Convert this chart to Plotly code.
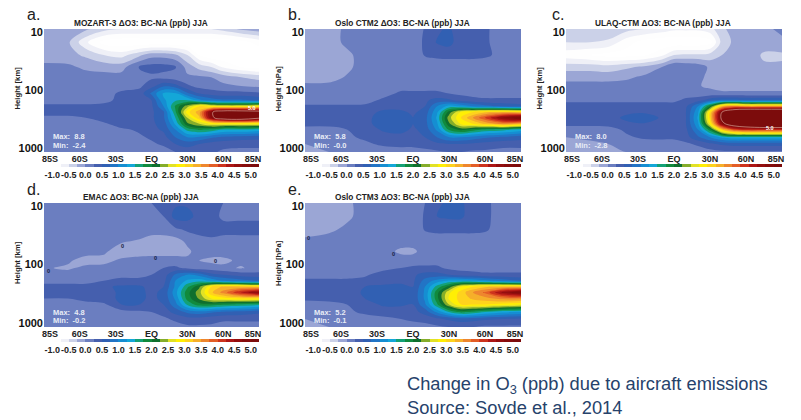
import plotly.graph_objects as go

lons = [-90,-70,-55,-40,-25,-10,0,10,20,30,40,50,60,75,90]
levels = [8.9,15,25,40,60,85,115,150,190,240,300,380,480,650,850,1170]

mozart3 = [
[-0.1,-0.1,-0.2,-0.4,-0.5,-0.5,-0.5,-0.5,-0.5,-0.5,-0.5,-0.5,-0.4,-0.2,-0.1],
[-0.1,-0.2,-0.7,-1.1,-1.2,-1.2,-1.2,-1.2,-1.2,-1.2,-1.2,-1.2,-1.2,-1.1,-0.9],
[-0.1,-0.15,-0.3,-0.5,-0.6,-0.3,-0.1,-0.1,-0.2,-0.5,-1.0,-1.2,-1.2,-1.2,-1.2],
[0.05,0.05,-0.05,-0.1,-0.1,0.28,0.35,0.35,0.28,-0.1,-0.35,-0.5,-0.8,-1.0,-1.1],
[0.1,0.1,0.1,0.1,0.1,0.15,0.2,0.15,0.1,0.05,0.05,0.0,-0.1,-0.25,-0.35],
[0.12,0.12,0.1,0.1,0.15,0.2,0.4,0.7,0.6,0.3,0.15,0.1,0.05,0.0,-0.05],
[0.12,0.12,0.12,0.15,0.3,0.35,0.8,1.3,1.3,0.8,0.5,0.4,0.35,0.35,0.3],
[0.15,0.15,0.15,0.2,0.3,0.4,0.5,1.2,1.45,1.5,1.1,0.9,0.8,0.8,0.7],
[0.3,0.3,0.3,0.3,0.4,0.45,0.45,1.0,1.8,2.4,3.0,2.8,2.7,2.7,2.9],
[0.35,0.35,0.35,0.35,0.45,0.45,0.45,0.7,1.7,2.9,3.4,4.9,5.6,5.6,5.4],
[0.2,0.2,0.25,0.4,0.45,0.45,0.45,0.7,1.5,2.5,3.2,4.8,5.6,5.8,5.2],
[0.1,0.1,0.15,0.2,0.4,0.45,0.45,0.6,1.3,2.2,2.5,2.8,2.8,2.8,2.8],
[0.1,0.1,0.1,0.15,0.2,0.3,0.4,0.55,1.0,1.6,1.8,1.7,1.5,1.5,1.4],
[0.1,0.1,0.1,0.1,0.15,0.2,0.3,0.4,0.75,1.0,0.95,0.8,0.7,0.65,0.6],
[0.1,0.1,0.1,0.1,0.1,0.15,0.2,0.3,0.5,0.6,0.5,0.4,0.35,0.3,0.3],
[0.05,0.05,0.05,0.05,0.05,0.1,0.1,0.1,0.25,0.35,0.3,0.3,0.2,0.2,0.2],
]
oslo_ctm2 = [
[-0.1,-0.1,0.05,0.1,0.1,0.1,0.1,0.27,0.45,0.55,0.3,0.3,0.3,0.1,0.1],
[-0.1,-0.1,0.05,0.1,0.1,0.1,0.1,0.3,0.52,0.6,0.32,0.3,0.3,0.1,0.1],
[-0.1,-0.1,-0.05,0.1,0.1,0.1,0.1,0.27,0.3,0.3,0.3,0.3,0.28,0.2,0.15],
[-0.1,-0.1,-0.05,0.1,0.1,0.1,0.1,0.1,0.12,0.15,0.15,0.15,0.15,0.15,0.15],
[-0.1,-0.08,0.02,0.1,0.1,0.1,0.1,0.1,0.1,0.1,0.1,0.1,0.1,0.1,0.1],
[0.05,0.05,0.1,0.1,0.1,0.15,0.15,0.15,0.15,0.12,0.12,0.12,0.12,0.12,0.12],
[0.1,0.1,0.1,0.1,0.15,0.3,0.3,0.3,0.3,0.25,0.2,0.15,0.15,0.15,0.15],
[0.1,0.1,0.1,0.15,0.3,0.4,0.4,0.45,0.6,0.55,0.4,0.35,0.3,0.3,0.3],
[0.3,0.3,0.3,0.3,0.4,0.4,0.45,0.5,1.0,1.35,1.2,1.0,0.85,0.7,0.6],
[0.35,0.35,0.35,0.4,0.55,0.55,0.45,0.6,1.2,2.1,2.8,3.0,3.2,3.3,3.2],
[0.35,0.35,0.35,0.4,0.65,0.65,0.5,0.65,1.3,2.4,3.0,3.5,4.0,4.8,5.2],
[0.3,0.3,0.3,0.4,0.65,0.65,0.5,0.65,1.2,2.2,2.8,3.0,3.3,3.6,3.4],
[0.2,0.2,0.25,0.3,0.55,0.6,0.45,0.6,1.05,1.8,2.1,1.9,1.7,1.6,1.4],
[0.05,0.1,0.2,0.3,0.35,0.4,0.4,0.5,0.75,1.0,1.0,0.9,0.8,0.7,0.6],
[0.0,0.05,0.1,0.2,0.3,0.35,0.35,0.4,0.45,0.5,0.5,0.45,0.4,0.35,0.35],
[0.0,0.0,0.05,0.1,0.1,0.1,0.1,0.15,0.2,0.25,0.25,0.2,0.2,0.15,0.15],
]
ulaq_ctm = [
[-0.25,-0.25,-0.3,-0.4,-0.5,-0.6,-0.7,-0.7,-0.7,-0.6,-0.3,-0.15,-0.1,-0.05,0.05],
[-0.5,-0.5,-0.55,-0.9,-1.1,-1.2,-1.2,-1.2,-1.2,-1.1,-0.4,-0.2,-0.1,-0.1,-0.05],
[-0.9,-1.0,-1.1,-1.1,-1.05,-0.8,-0.5,-0.45,-0.45,-0.4,-0.25,-0.15,-0.05,-0.3,-0.3],
[-0.35,-0.35,-0.4,-0.3,-0.2,0.0,0.25,0.2,0.15,-0.05,-0.1,-0.15,-0.15,-0.2,-0.2],
[-0.1,-0.1,-0.1,-0.05,0.05,0.1,0.12,0.12,0.05,-0.05,-0.1,-0.1,-0.1,-0.1,-0.1],
[0.1,0.1,0.1,0.1,0.1,0.1,0.1,0.05,0.02,-0.05,-0.1,-0.1,-0.1,-0.1,-0.1],
[0.15,0.15,0.15,0.15,0.15,0.15,0.15,0.15,0.1,0.1,0.05,0.05,0.05,0.05,0.05],
[0.2,0.2,0.2,0.2,0.2,0.2,0.2,0.3,0.4,0.65,0.8,0.8,0.75,0.75,0.75],
[0.35,0.35,0.35,0.35,0.35,0.35,0.35,0.45,1.0,2.0,3.3,3.6,3.4,3.4,3.4],
[0.4,0.4,0.4,0.45,0.45,0.45,0.4,0.5,1.2,3.0,5.0,6.0,6.5,6.5,6.5],
[0.4,0.4,0.4,0.55,0.7,0.45,0.4,0.5,1.3,3.1,5.2,6.5,7.0,8.0,8.0],
[0.35,0.35,0.35,0.45,0.48,0.4,0.4,0.5,1.2,2.8,4.8,5.6,6.0,6.5,6.5],
[0.1,0.1,0.15,0.3,0.4,0.35,0.35,0.45,1.0,1.9,3.2,4.0,4.2,4.2,4.2],
[0.0,0.05,0.1,0.2,0.3,0.3,0.3,0.4,0.7,1.0,1.3,1.4,1.4,1.4,1.4],
[-0.05,-0.05,0.0,0.1,0.1,0.15,0.15,0.2,0.3,0.45,0.55,0.6,0.6,0.6,0.6],
[-0.1,-0.1,-0.05,0.0,0.0,0.0,0.05,0.05,0.1,0.15,0.2,0.2,0.2,0.2,0.2],
]
emac = [
[0.1,0.1,0.1,0.1,0.1,0.15,0.25,0.35,0.45,0.45,0.4,0.35,0.25,0.15,0.15],
[0.1,0.1,0.1,0.1,0.1,0.1,0.15,0.25,0.6,0.6,0.4,0.35,0.2,0.2,0.2],
[0.1,0.1,0.1,0.1,0.1,0.1,0.1,0.1,0.2,0.3,0.35,0.35,0.35,0.35,0.35],
[0.1,0.1,0.1,0.1,0.02,-0.02,-0.1,-0.1,-0.1,0.05,0.15,0.2,0.15,0.15,0.15],
[0.1,0.1,0.08,0.03,-0.1,-0.1,-0.1,-0.1,-0.1,-0.05,0.1,0.1,0.1,0.1,0.1],
[0.1,0.03,-0.08,-0.05,0.03,0.08,0.1,0.1,0.1,0.05,0.0,-0.05,-0.05,0.05,0.1],
[0.02,-0.03,0.05,0.05,0.1,0.1,0.1,0.25,0.3,0.2,0.1,0.1,0.05,-0.02,0.08],
[0.08,0.08,0.12,0.15,0.2,0.2,0.25,0.35,0.8,1.0,0.9,0.6,0.5,0.4,0.35],
[0.2,0.2,0.2,0.25,0.3,0.3,0.35,0.4,1.0,1.3,1.4,1.2,1.0,0.85,0.75],
[0.3,0.3,0.3,0.45,0.55,0.55,0.4,0.5,1.05,1.7,2.2,3.0,3.3,3.3,3.2],
[0.3,0.3,0.3,0.4,0.55,0.55,0.45,0.55,1.15,1.9,2.4,3.2,3.6,4.3,4.8],
[0.25,0.25,0.3,0.4,0.55,0.55,0.45,0.55,1.05,1.85,2.3,2.75,2.9,3.0,3.0],
[0.15,0.15,0.2,0.2,0.5,0.5,0.45,0.5,0.9,1.55,1.9,1.9,1.8,1.7,1.6],
[0.1,0.1,0.1,0.1,0.15,0.2,0.25,0.35,0.6,0.8,0.9,0.8,0.7,0.65,0.55],
[0.1,0.1,0.1,0.1,0.1,0.15,0.15,0.2,0.3,0.4,0.4,0.35,0.3,0.3,0.3],
[0.05,0.05,0.05,0.05,0.05,0.1,0.1,0.1,0.15,0.2,0.2,0.2,0.15,0.15,0.15],
]
oslo_ctm3 = [
[-0.1,-0.1,-0.05,0.1,0.1,0.1,0.1,0.25,0.45,0.55,0.55,0.35,0.3,0.15,0.15],
[-0.1,-0.1,-0.05,0.1,0.1,0.1,0.1,0.28,0.5,0.55,0.55,0.35,0.3,0.15,0.25],
[-0.1,-0.05,0.05,0.1,0.1,0.1,0.1,0.27,0.3,0.3,0.3,0.3,0.28,0.15,0.15],
[0.05,0.1,0.1,0.1,0.1,0.1,0.1,0.12,0.15,0.15,0.15,0.15,0.15,0.15,0.15],
[0.1,0.1,0.1,0.1,0.1,-0.05,-0.05,0.1,0.1,0.1,0.1,0.1,0.1,0.1,0.1],
[0.12,0.12,0.12,0.12,0.12,0.12,0.12,0.15,0.15,0.12,0.12,0.12,0.12,0.12,0.12],
[0.12,0.12,0.12,0.12,0.15,0.25,0.3,0.3,0.3,0.2,0.15,0.15,0.15,0.15,0.15],
[0.15,0.15,0.15,0.2,0.4,0.4,0.45,0.6,0.6,0.5,0.4,0.35,0.3,0.3,0.3],
[0.3,0.3,0.3,0.35,0.4,0.45,0.45,0.85,1.1,1.3,1.3,1.25,1.1,0.9,0.75],
[0.3,0.3,0.35,0.5,0.55,0.55,0.5,1.0,1.6,2.1,2.8,3.0,3.2,3.3,3.3],
[0.3,0.3,0.35,0.55,0.6,0.6,0.55,1.05,1.9,2.7,3.1,3.5,3.8,4.6,5.0],
[0.3,0.3,0.3,0.5,0.6,0.6,0.55,1.05,1.9,2.8,3.1,3.3,3.4,3.6,3.6],
[0.15,0.2,0.25,0.35,0.55,0.55,0.5,0.95,1.7,2.5,3.0,3.0,3.0,2.9,2.8],
[0.05,0.1,0.2,0.3,0.35,0.35,0.4,0.6,1.05,1.5,1.8,1.7,1.5,1.3,1.2],
[0.0,0.05,0.1,0.15,0.2,0.25,0.3,0.35,0.45,0.55,0.65,0.6,0.55,0.5,0.45],
[0.0,0.0,0.05,0.1,0.1,0.1,0.15,0.15,0.2,0.25,0.25,0.25,0.2,0.2,0.2],
]

band_values = [-1.125,-0.875,-0.625,-0.375,-0.125,0.125,0.375,0.625,0.875,1.125,1.375,1.625,1.875,2.125,2.375,2.625,2.875,3.125,3.375,3.625,3.875,4.125,4.375,4.625,4.875,5.125]
band_colors = ["#ffffff","#fdfdfe","#e4e7f2","#bcc4e2","#8a97ce","#5d73ba","#3c58aa","#2e62b6","#1f78c8","#1392d4","#14a9d8","#14a070","#118a3c","#0d6e2e","#7faa2a","#dfe02a","#fff200","#ffd91a","#f8b828","#f09030","#e86a28","#d84020","#b81a18","#9c1010","#8a0c0c","#7c0c0c"]

x_ticks = [-85,-60,-30,0,30,60,85]
x_labels = ["85S","60S","30S","EQ","30N","60N","85N"]
y_ticks = [10,100,1000]
cbar_ticks = [-1.0,-0.5,0.0,0.5,1.0,1.5,2.0,2.5,3.0,3.5,4.0,4.5,5.0]
cbar_labels = ["-1.0","-0.5","0.0","0.5","1.0","1.5","2.0","2.5","3.0","3.5","4.0","4.5","5.0"]

panels = [
    dict(z=mozart3, title="MOZART-3 ΔO3: BC-NA (ppb) JJA", ytitle="Height [km]", letter="a.", maxv="8.8", minv="-2.4", box=(44,259,29,152), lx=26, ly=15, line5=True, notes=[(252,108,"5.0","#ffffff")]),
    dict(z=oslo_ctm2, title="Oslo CTM2 ΔO3: BC-NA (ppb) JJA", ytitle="Height [hPa]", letter="b.", maxv="5.8", minv="-0.0", box=(305,521,29,152), lx=287, ly=15, line5=False, notes=[]),
    dict(z=ulaq_ctm, title="ULAQ-CTM ΔO3: BC-NA (ppb) JJA", ytitle="Height [km]", letter="c.", maxv="8.0", minv="-2.8", box=(566,782,29,152), lx=551, ly=15, line5=True, notes=[(770,128,"5.0","#ffffff")]),
    dict(z=emac, title="EMAC ΔO3: BC-NA (ppb) JJA", ytitle="Height [km]", letter="d.", maxv="4.8", minv="-0.2", box=(44,259,203,327), lx=26, ly=190, line5=False,
         notes=[(48,271,"0","#141c40"),(122,246,"0","#141c40"),(155,258,"0","#141c40"),(215,261,"0","#141c40")]),
    dict(z=oslo_ctm3, title="Oslo CTM3 ΔO3: BC-NA (ppb) JJA", ytitle="Height [hPa]", letter="e.", maxv="5.2", minv="-0.1", box=(305,521,203,327), lx=287, ly=190, line5=False,
         notes=[(308,238,"0","#141c40"),(393,254,"0","#141c40")]),
]

W, H = 801, 420
fx = lambda px: px / W
fy = lambda py: 1 - py / H
zlo, zhi = -1.25, 5.25
scale = [[(v - zlo) / (zhi - zlo), c] for v, c in zip(band_values, band_colors)]
scale[0][0] = 0.0
scale[-1][0] = 1.0

fig = go.Figure()
ann = []
FONT = "Liberation Sans"

def note(text, x, y, size, color, xanchor="center", angle=0):
    ann.append(dict(text=text, x=fx(x), y=fy(y), xref="paper", yref="paper", xanchor=xanchor, yanchor="middle",
                    showarrow=False, textangle=angle, borderpad=0, font=dict(family=FONT, size=size, color=color)))

for i, p in enumerate(panels):
    sfx = "" if i == 0 else str(i + 1)
    x0, x1, y0, y1 = p["box"]
    fig.add_trace(go.Contour(
        x=lons, y=levels, z=p["z"], xaxis="x" + sfx, yaxis="y" + sfx,
        colorscale=scale, zmin=zlo, zmax=zhi, autocontour=False,
        contours=dict(start=-1.0, end=5.0, size=0.25, coloring="fill", showlines=False),
        line=dict(width=0), hoverinfo="skip",
        colorbar=dict(
            orientation="h", lenmode="pixels", len=x1 - x0, thicknessmode="pixels", thickness=3,
            x=fx((x0 + x1) / 2), xanchor="center", y=fy(y1 + 12), yanchor="top",
            outlinewidth=0, ticks="", ypad=0, xpad=0, tickangle=0,
            tickmode="array", tickvals=cbar_ticks, ticktext=cbar_labels,
            tickfont=dict(family=FONT, size=9, color="#222222", weight="bold"),
        ),
    ))
    if p["line5"]:
        fig.add_trace(go.Contour(
            x=lons, y=levels, z=p["z"], xaxis="x" + sfx, yaxis="y" + sfx, showscale=False,
            autocontour=False, contours=dict(start=5.0, end=5.0, size=1, coloring="none"),
            line=dict(width=0.5, color="#f4d8c8"), hoverinfo="skip",
        ))
    fig.layout["xaxis" + sfx] = dict(
        domain=[fx(x0), fx(x1)], range=[-90, 90], anchor="y" + sfx, tickmode="array",
        tickvals=x_ticks, ticktext=x_labels, ticks="", showgrid=False, zeroline=False, showline=False,
        tickfont=dict(family=FONT, size=9, color="#222222", weight="bold"), ticklen=0,
    )
    fig.layout["yaxis" + sfx] = dict(
        domain=[fy(y1), fy(y0)], type="log", range=[3.068, 0.948], anchor="x" + sfx, tickmode="array",
        tickvals=y_ticks, ticktext=[str(t) for t in y_ticks], ticks="", showgrid=False, zeroline=False,
        showline=False, tickfont=dict(family=FONT, size=11, color="#111111", weight="bold"),
    )
    note("<b>%s</b>" % p["title"], (x0 + x1) / 2 - 11, y0 - 6, 8.3, "#222222")
    note("<b>%s</b>" % p["ytitle"], x0 - 27, (y0 + y1) / 2 - 2, 7.7, "#222222", angle=-90)
    note(p["letter"], p["lx"], p["ly"], 16, "#222222", xanchor="left")
    note("<b>Max:  %s</b>" % p["maxv"], x0 + 8, y1 - 15, 7.5, "#e8ecf6", xanchor="left")
    note("<b>Min:  %s</b>" % p["minv"], x0 + 8, y1 - 7, 7.5, "#e8ecf6", xanchor="left")
    for nx, ny, nt, nc in p["notes"]:
        note("<b>%s</b>" % nt, nx, ny, 5.5, nc)

note("Change in O<sub>3</sub> (ppb) due to aircraft emissions", 406, 385, 18.3, "#26426b", xanchor="left")
note("Source: Sovde et al., 2014", 406, 407, 18.3, "#26426b", xanchor="left")

fig.update_layout(width=W, height=H, margin=dict(l=0, r=0, t=0, b=0, autoexpand=False), paper_bgcolor="white", plot_bgcolor="white",
                  showlegend=False, annotations=ann, font=dict(family=FONT))
fig.write_html("out.html", config=dict(displayModeBar=False), post_script="document.body.style.margin='0';document.body.style.overflow='hidden';")
